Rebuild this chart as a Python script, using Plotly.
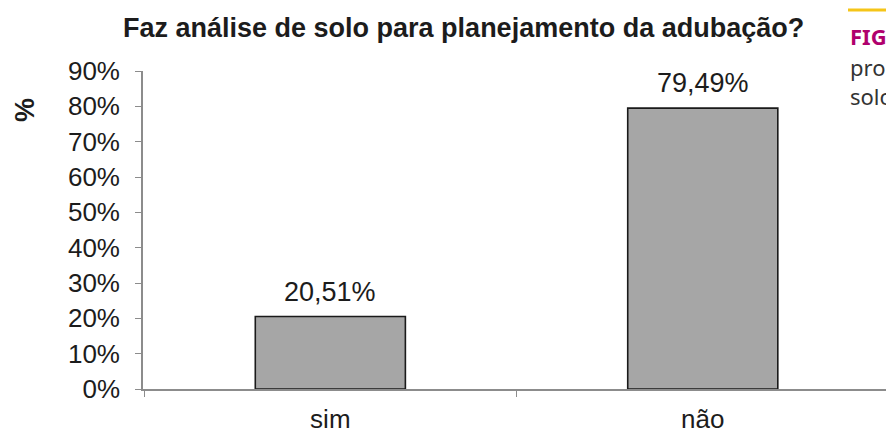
import plotly.graph_objects as go

# Survey answers: does the farmer run a soil test before planning fertilisation?
categories = ["sim", "não"]
shares = [20.51, 79.49]
y_ticks = [0, 10, 20, 30, 40, 50, 60, 70, 80, 90]
y_tick_labels = [f"{v}%" for v in y_ticks]

title_text = "Faz análise de solo para planejamento da adubação?"
axis_title = "%"
side_lines = ["FIG", "pro", "solo"]

FONT = "Liberation Sans, Arial, sans-serif"
TEXT = "#1c1c1c"
AXIS = "#8c8c8c"


def pt_br(v):
    return f"{v:.2f}".replace(".", ",") + "%"


fig = go.Figure(
    go.Bar(
        x=categories,
        y=shares,
        width=0.403,
        marker=dict(color="#a6a6a6", line=dict(color="#1a1a1a", width=1.6)),
        hoverinfo="skip",
    )
)

annotations = []
# value labels above each bar
for c, v in zip(categories, shares):
    annotations.append(dict(
        x=c, y=v, xref="x", yref="y", text=pt_br(v), showarrow=False,
        yanchor="bottom", yshift=8, font=dict(family=FONT, size=27, color=TEXT),
    ))

# chart title
annotations.append(dict(
    x=(463 - 143) / 743, y=1, xref="paper", yref="paper", text=f"<b>{title_text}</b>",
    showarrow=False, xanchor="center", yanchor="bottom", yshift=26,
    font=dict(family=FONT, size=27, color=TEXT),
))

# rotated y-axis title
annotations.append(dict(
    x=(25 - 143) / 743, y=0.877, xref="paper", yref="paper", text=f"<b>{axis_title}</b>",
    showarrow=False, textangle=-90, xanchor="center", yanchor="middle",
    font=dict(family=FONT, size=27, color=TEXT),
))

# text of the neighbouring page column
side_x = (848 - 143) / 743
side_colors = ["#b0006d", "#333333", "#333333"]
side_y = [36, 67, 96]
for i, (txt, col, py) in enumerate(zip(side_lines, side_colors, side_y)):
    annotations.append(dict(
        x=side_x, y=(389 - py) / 318, xref="paper", yref="paper",
        text=f"<b>{txt}</b>" if i == 0 else txt, showarrow=False,
        xanchor="left", yanchor="middle",
        font=dict(family="Noto Sans, Open Sans, sans-serif", size=22, color=col),
    ))

fig.update_layout(
    width=886,
    height=433,
    margin=dict(l=143, r=0, t=71, b=44),
    paper_bgcolor="white",
    plot_bgcolor="white",
    showlegend=False,
    annotations=annotations,
    shapes=[dict(
        type="line", xref="paper", yref="paper",
        x0=side_x, x1=side_x + 60 / 743, y0=(389 - 10) / 318, y1=(389 - 10) / 318,
        line=dict(color="#f5c518", width=3),
    )],
)

fig.update_xaxes(
    type="category",
    range=[-0.503, 1.492],
    automargin=False,
    showline=True, linecolor=AXIS, linewidth=1.6,
    ticks="outside", tickson="boundaries", ticklen=6, tickcolor=AXIS, tickwidth=1.3,
    showgrid=False, zeroline=False,
    tickfont=dict(family=FONT, size=26, color=TEXT),
    ticklabelstandoff=6,
)

fig.update_yaxes(
    range=[0, 90],
    automargin=False,
    tickvals=y_ticks,
    ticktext=y_tick_labels,
    showline=True, linecolor=AXIS, linewidth=1.6,
    ticks="outside", ticklen=6, tickcolor=AXIS, tickwidth=1.3,
    showgrid=False, zeroline=False,
    tickfont=dict(family=FONT, size=26, color=TEXT),
    ticklabelstandoff=10,
)

fig.write_html("out.html")
